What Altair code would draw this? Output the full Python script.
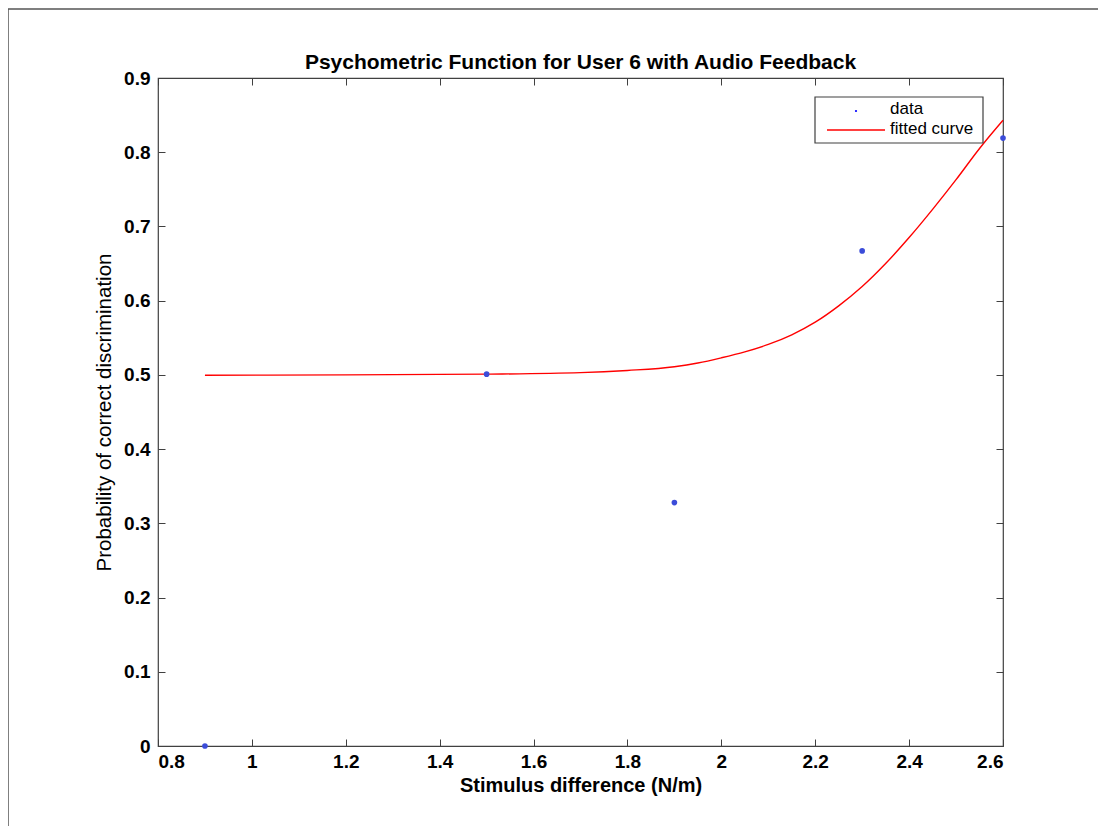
import altair as alt
import pandas as pd

# ---- data ----
data_x = [0.9, 1.5, 1.9, 2.3, 2.6]
data_y = [0.0, 0.501, 0.328, 0.667, 0.819]

curve_x = [0.9, 1.2, 1.5, 1.7, 1.8, 1.9, 1.95, 2.0, 2.05, 2.1, 2.15, 2.2,
           2.25, 2.3, 2.35, 2.4, 2.45, 2.5, 2.55, 2.6]
curve_y = [0.4995, 0.500, 0.501, 0.503, 0.506, 0.511, 0.516, 0.523, 0.531,
           0.541, 0.554, 0.571, 0.593, 0.619, 0.650, 0.685, 0.723, 0.763,
           0.805, 0.843]

x_ticks = [0.8, 1.0, 1.2, 1.4, 1.6, 1.8, 2.0, 2.2, 2.4, 2.6]
y_ticks = [0.0, 0.1, 0.2, 0.3, 0.4, 0.5, 0.6, 0.7, 0.8, 0.9]
legend_labels = ["data", "fitted curve"]

title_text = "Psychometric Function for User 6 with Audio Feedback"
x_title = "Stimulus difference (N/m)"
y_title = "Probability of correct discrimination"

FONT = "Liberation Sans"
BLUE = "#3b4cd9"
RED = "#ff0000"
AX = "#404040"

W, H = 845, 668

df_pts = pd.DataFrame({"x": data_x, "y": data_y})
df_curve = pd.DataFrame({"x": curve_x, "y": curve_y})

xscale = alt.Scale(domain=[0.8, 2.6], nice=False, zero=False)
yscale = alt.Scale(domain=[0.0, 0.9], nice=False, zero=False)

common_axis = dict(grid=False, domain=False, tickSize=7, offset=-7,
                   tickColor=AX, tickWidth=1)

x_axis = alt.Axis(values=x_ticks, format="~g", title=x_title,
                  labelFont=FONT, labelFontSize=19, labelFontWeight="bold",
                  labelColor="black", labelPadding=6,
                  titleFont=FONT, titleFontSize=20, titleFontWeight="bold",
                  titleColor="black", titlePadding=4, **common_axis)
y_axis = alt.Axis(values=y_ticks, format="~g", title=y_title,
                  labelFont=FONT, labelFontSize=19, labelFontWeight="bold",
                  labelColor="black", labelPadding=8,
                  titleFont=FONT, titleFontSize=20.5, titleFontWeight="normal",
                  titleColor="black", titlePadding=9, **common_axis)
x_axis_top = alt.Axis(values=x_ticks, orient="top", labels=False, title=None,
                      **common_axis)
y_axis_right = alt.Axis(values=y_ticks, orient="right", labels=False, title=None,
                        **common_axis)

line = alt.Chart(df_curve).mark_line(color=RED, strokeWidth=1.4,
                                     interpolate="monotone").encode(
    x=alt.X("x:Q", scale=xscale, axis=x_axis),
    y=alt.Y("y:Q", scale=yscale, axis=y_axis),
)

mirror = alt.Chart(df_curve).mark_line(opacity=0).encode(
    x=alt.X("x:Q", scale=xscale, axis=x_axis_top),
    y=alt.Y("y:Q", scale=yscale, axis=y_axis_right),
)

points = alt.Chart(df_pts).mark_circle(size=32, color=BLUE, opacity=1).encode(
    x=alt.X("x:Q", scale=xscale, axis=None),
    y=alt.Y("y:Q", scale=yscale, axis=None),
)

# ---- legend box ----
leg_box = alt.Chart(pd.DataFrame({"a": [0]})).mark_rect(
    fill="white", stroke=AX, strokeWidth=1.2).encode(
    x=alt.value(657), x2=alt.value(825), y=alt.value(19), y2=alt.value(65))
leg_dot = alt.Chart(pd.DataFrame({"a": [0]})).mark_circle(
    size=5, color="#0000ff", opacity=1).encode(x=alt.value(698), y=alt.value(33))
leg_line = alt.Chart(pd.DataFrame({"a": [0]})).mark_rule(
    color=RED, strokeWidth=1.4).encode(
    x=alt.value(669), x2=alt.value(727), y=alt.value(52))
leg_t1 = alt.Chart(pd.DataFrame({"t": [legend_labels[0]]})).mark_text(
    font=FONT, fontSize=17, align="left", baseline="alphabetic", color="black").encode(
    text="t:N", x=alt.value(732), y=alt.value(36))
leg_t2 = alt.Chart(pd.DataFrame({"t": [legend_labels[1]]})).mark_text(
    font=FONT, fontSize=17, align="left", baseline="alphabetic", color="black").encode(
    text="t:N", x=alt.value(732), y=alt.value(56))

# ---- figure frame (top and left edges visible) ----
frame_top = alt.Chart(pd.DataFrame({"a": [0]})).mark_rule(
    color="#555555", strokeWidth=1.5).encode(
    x=alt.value(-150), x2=alt.value(940), y=alt.value(-69))
frame_left = alt.Chart(pd.DataFrame({"a": [0]})).mark_rule(
    color="#555555", strokeWidth=1.5).encode(
    x=alt.value(-150), y=alt.value(-69), y2=alt.value(748))

chart = alt.layer(
    line, mirror, points, leg_box, leg_dot, leg_line, leg_t1, leg_t2,
    frame_top, frame_left
).resolve_axis(x="independent", y="independent").properties(
    width=W, height=H,
    title=alt.TitleParams(title_text, font=FONT, fontSize=21, fontWeight="bold",
                          anchor="middle", offset=5, dy=70, color="black",
                          frame="group"),
    autosize=alt.AutoSizeParams(type="none"),
    padding={"left": 150, "top": 70, "right": 95, "bottom": 80},
    background="white",
).configure_view(stroke=AX, strokeWidth=1.2)

chart.save("out.html", embed_options={"renderer": "svg", "actions": False})
